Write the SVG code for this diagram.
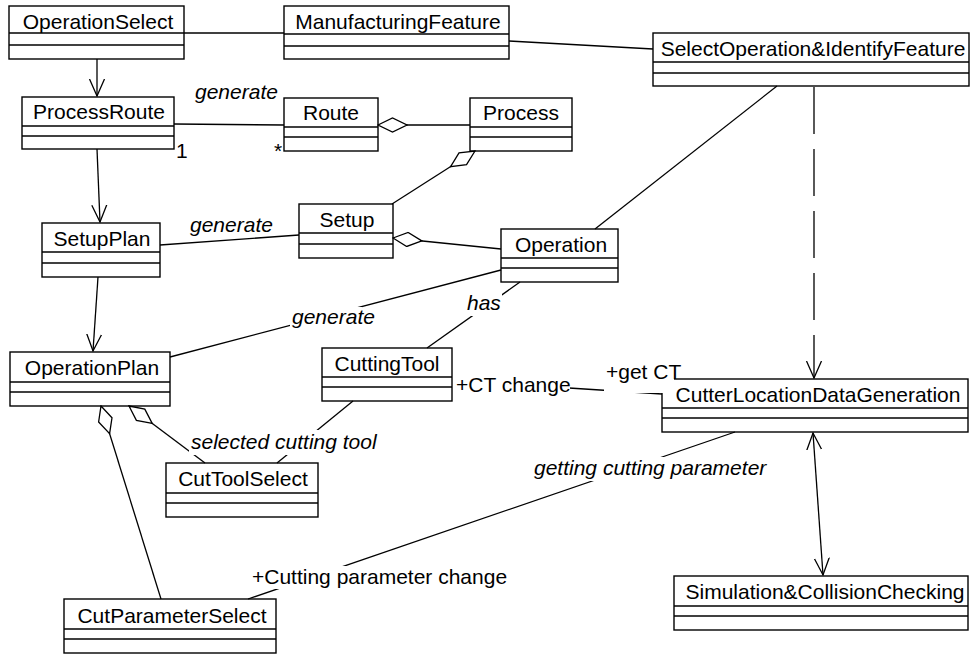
<svg xmlns="http://www.w3.org/2000/svg" width="973" height="656" viewBox="0 0 973 656">
<style>
.box{fill:#fff;stroke:#000;stroke-width:1.4}
.div{stroke:#000;stroke-width:1.4}
.nm{font-family:"Liberation Sans",Arial,sans-serif;font-size:21px;fill:#000;text-anchor:middle}
.ln{fill:none;stroke:#000;stroke-width:1.3}
.dash{stroke-dasharray:47 15}
.lbl{font-family:"Liberation Sans",Arial,sans-serif;font-size:21px;fill:#000}
.it{font-style:italic}
.bg{fill:#fff;stroke:none}
</style>
<defs>
<marker id="arr" viewBox="0 0 18 18" refX="17" refY="9" markerWidth="18" markerHeight="18" markerUnits="userSpaceOnUse" orient="auto-start-reverse">
<path d="M0,1.5 L17,9 L0,16.5" fill="none" stroke="#000" stroke-width="1.3" stroke-dasharray="none"/>
</marker>
<marker id="dia" viewBox="-1 -1 31 16" refX="0" refY="7" markerWidth="31" markerHeight="16" markerUnits="userSpaceOnUse" orient="auto">
<path d="M0,7 L14.5,0 L29,7 L14.5,14 Z" fill="#fff" stroke="#000" stroke-width="1.3"/>
</marker>
</defs>

<g id="OperationSelect"><rect class="box" x="9" y="6" width="175" height="53"/><line class="div" x1="9" y1="33" x2="184" y2="33"/><line class="div" x1="9" y1="45" x2="184" y2="45"/><text class="nm" x="98" y="29">OperationSelect</text></g>
<g id="ManufacturingFeature"><rect class="box" x="284" y="6" width="225" height="53"/><line class="div" x1="284" y1="34" x2="509" y2="34"/><line class="div" x1="284" y1="46" x2="509" y2="46"/><text class="nm" x="398" y="29">ManufacturingFeature</text></g>
<g id="SelectOperationIdentifyFeature"><rect class="box" x="653" y="33" width="316" height="53"/><line class="div" x1="653" y1="62" x2="969" y2="62"/><line class="div" x1="653" y1="73" x2="969" y2="73"/><text class="nm" x="813" y="56">SelectOperation&amp;IdentifyFeature</text></g>
<g id="ProcessRoute"><rect class="box" x="22" y="97" width="152" height="52"/><line class="div" x1="22" y1="126" x2="174" y2="126"/><line class="div" x1="22" y1="136" x2="174" y2="136"/><text class="nm" x="99" y="119">ProcessRoute</text></g>
<g id="Route"><rect class="box" x="284" y="98" width="94" height="53"/><line class="div" x1="284" y1="127" x2="378" y2="127"/><line class="div" x1="284" y1="137" x2="378" y2="137"/><text class="nm" x="331" y="120">Route</text></g>
<g id="Process"><rect class="box" x="470" y="98" width="102" height="53"/><line class="div" x1="470" y1="127" x2="572" y2="127"/><line class="div" x1="470" y1="137" x2="572" y2="137"/><text class="nm" x="521" y="120">Process</text></g>
<g id="Setup"><rect class="box" x="299" y="204" width="94" height="54"/><line class="div" x1="299" y1="233" x2="393" y2="233"/><line class="div" x1="299" y1="244" x2="393" y2="244"/><text class="nm" x="347" y="227">Setup</text></g>
<g id="SetupPlan"><rect class="box" x="42" y="223" width="118" height="54"/><line class="div" x1="42" y1="252" x2="160" y2="252"/><line class="div" x1="42" y1="263" x2="160" y2="263"/><text class="nm" x="102" y="246">SetupPlan</text></g>
<g id="Operation"><rect class="box" x="501" y="229" width="117" height="53"/><line class="div" x1="501" y1="258" x2="618" y2="258"/><line class="div" x1="501" y1="268" x2="618" y2="268"/><text class="nm" x="561" y="252">Operation</text></g>
<g id="OperationPlan"><rect class="box" x="10" y="352" width="160" height="54"/><line class="div" x1="10" y1="382" x2="170" y2="382"/><line class="div" x1="10" y1="392" x2="170" y2="392"/><text class="nm" x="92" y="375">OperationPlan</text></g>
<g id="CuttingTool"><rect class="box" x="322" y="348" width="130" height="53"/><line class="div" x1="322" y1="377" x2="452" y2="377"/><line class="div" x1="322" y1="387" x2="452" y2="387"/><text class="nm" x="387" y="371">CuttingTool</text></g>
<g id="CutterLocationDataGeneration"><rect class="box" x="662" y="379" width="306" height="53"/><line class="div" x1="662" y1="408" x2="968" y2="408"/><line class="div" x1="662" y1="418" x2="968" y2="418"/><text class="nm" x="818" y="402">CutterLocationDataGeneration</text></g>
<g id="CutToolSelect"><rect class="box" x="166" y="463" width="152" height="54"/><line class="div" x1="166" y1="493" x2="318" y2="493"/><line class="div" x1="166" y1="503" x2="318" y2="503"/><text class="nm" x="243" y="486">CutToolSelect</text></g>
<g id="SimulationCollisionChecking"><rect class="box" x="674" y="576" width="294" height="54"/><line class="div" x1="674" y1="606" x2="968" y2="606"/><line class="div" x1="674" y1="616" x2="968" y2="616"/><text class="nm" x="825" y="599">Simulation&amp;CollisionChecking</text></g>
<g id="CutParameterSelect"><rect class="box" x="64" y="599" width="212" height="54"/><line class="div" x1="64" y1="629" x2="276" y2="629"/><line class="div" x1="64" y1="639" x2="276" y2="639"/><text class="nm" x="172" y="623">CutParameterSelect</text></g>

<g id="connectors">
<path class="ln" d="M184,33 L284,33"/>
<path class="ln" d="M509,41 L653,49"/>
<path class="ln" d="M97,59 L97,96" marker-end="url(#arr)"/>
<path class="ln" d="M174,124 L284,125"/>
<path class="ln" d="M378,125 L470,125" marker-start="url(#dia)"/>
<path class="ln" d="M475,151 L392,204" marker-start="url(#dia)"/>
<path class="ln" d="M97,149 L100,222" marker-end="url(#arr)"/>
<path class="ln" d="M160,245 L299,235"/>
<path class="ln" d="M393,238 L501,249" marker-start="url(#dia)"/>
<path class="ln" d="M595,229 L777,86"/>
<path class="ln dash" d="M814,87 L814,378" marker-end="url(#arr)"/>
<path class="ln" d="M98,277 L93,351" marker-end="url(#arr)"/>
<path class="ln" d="M170,357 L501,270"/>
<path class="ln" d="M520,282 L427,348"/>
<path class="ln" d="M569,388 L662,394"/>
<path class="ln" d="M353,401 L277,463"/>
<path class="ln" d="M129,406 L205,463" marker-start="url(#dia)"/>
<path class="ln" d="M101,406 L161,599" marker-start="url(#dia)"/>
<path class="ln" d="M735,432 L248,599"/>
<path class="ln" d="M813,433 L823,575" marker-start="url(#arr)" marker-end="url(#arr)"/>
</g>

<g id="labels">
<text class="lbl it" x="195" y="99">generate</text>
<text class="lbl" x="176" y="158">1</text>
<text class="lbl" x="274" y="158">*</text>
<text class="lbl it" x="190" y="232">generate</text>
<rect class="bg" x="290" y="307" width="72" height="23"/>
<text class="lbl it" x="292" y="324">generate</text>
<rect class="bg" x="465" y="294" width="37" height="22"/>
<text class="lbl it" x="467" y="310">has</text>
<rect class="bg" x="454" y="374" width="116" height="23"/>
<text class="lbl" x="456" y="392">+CT change</text>
<rect class="bg" x="604" y="361" width="70" height="32"/>
<text class="lbl" x="606" y="379">+get CT</text>
<rect class="bg" x="189" y="430" width="190" height="25"/>
<text class="lbl it" x="191" y="449">selected cutting tool</text>
<rect class="bg" x="532" y="457" width="236" height="24"/>
<text class="lbl it" x="534" y="475">getting cutting parameter</text>
<rect class="bg" x="250" y="566" width="258" height="23"/>
<text class="lbl" x="252" y="584">+Cutting parameter change</text>
</g>
</svg>
